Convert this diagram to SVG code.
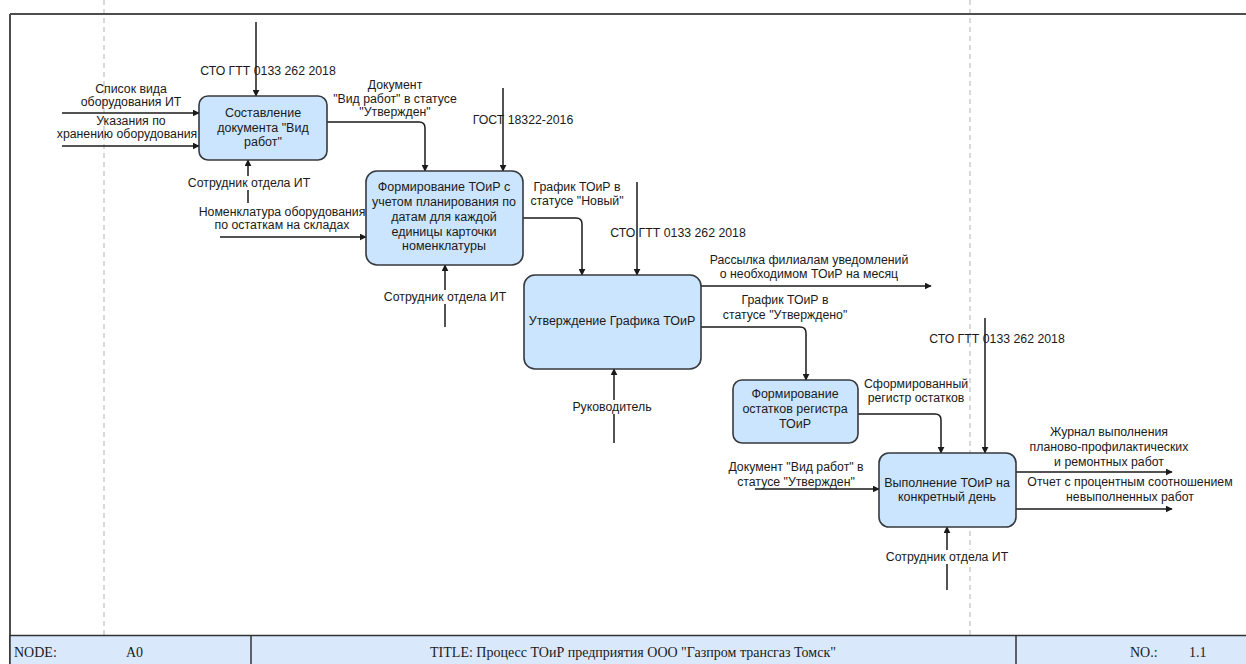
<svg xmlns="http://www.w3.org/2000/svg" width="1246" height="664" viewBox="0 0 1246 664">
  <style>
    .frame { stroke: #4d4d4d; stroke-width: 2; fill: none; }
    .guide { stroke: #b3b3b3; stroke-width: 1; stroke-dasharray: 5 4; fill: none; }
    .box { fill: #cce5ff; stroke: #36393d; stroke-width: 1.6; }
    .btxt { font-family: "Liberation Sans", Arial, sans-serif; font-size: 12.5px; fill: #1a1a1a; text-anchor: middle; }
    .lbl { font-family: "Liberation Sans", Arial, sans-serif; font-size: 12.3px; fill: #1a1a1a; text-anchor: middle; }
    .bg { fill: #ffffff; }
    .wire { stroke: #1a1a1a; stroke-width: 1.5; fill: none; marker-end: url(#head); }
    .bar { fill: #dae8fc; stroke: #333333; stroke-width: 1.5; }
    .btitle { font-family: "Liberation Serif", "Times New Roman", serif; font-size: 14px; fill: #1a1a1a; }
  </style>
  <defs>
    <marker id="head" viewBox="0 0 10 10" refX="9" refY="5" markerWidth="7" markerHeight="7" markerUnits="userSpaceOnUse" orient="auto">
      <path d="M0,0 L10,5 L0,10 z" fill="#1a1a1a"/>
    </marker>
  </defs>

  <rect width="1246" height="664" fill="#ffffff"/>

  <!-- sheet frame and guides -->
  <g id="frame">
    <line class="guide" x1="104" y1="0" x2="104" y2="635"/>
    <line class="guide" x1="970" y1="0" x2="970" y2="635"/>
    <line class="frame" x1="10" y1="14" x2="1246" y2="14"/>
    <line class="frame" x1="10" y1="14" x2="10" y2="664"/>
  </g>

  <!-- connectors -->
  <g id="connectors">
    <line class="wire" x1="256" y1="22" x2="256" y2="96"/>
    <line class="wire" x1="62" y1="113" x2="199" y2="113"/>
    <line class="wire" x1="62" y1="146" x2="199" y2="146"/>
    <line class="wire" x1="248" y1="203" x2="248" y2="160"/>
    <path class="wire" d="M327,122 H419 Q425,122 425,128 V171"/>
    <line class="wire" x1="220" y1="237" x2="366" y2="237"/>
    <line class="wire" x1="503" y1="88" x2="503" y2="171"/>
    <line class="wire" x1="445" y1="327" x2="445" y2="265"/>
    <path class="wire" d="M523,218 H576 Q582,218 582,224 V275"/>
    <line class="wire" x1="637" y1="182" x2="637" y2="275"/>
    <line class="wire" x1="701" y1="286" x2="931" y2="286"/>
    <path class="wire" d="M701,327 H800 Q806,327 806,333 V380"/>
    <line class="wire" x1="614" y1="443" x2="614" y2="369"/>
    <path class="wire" d="M858,414 H935 Q941,414 941,420 V453"/>
    <line class="wire" x1="985" y1="318" x2="985" y2="453"/>
    <line class="wire" x1="755" y1="489" x2="879" y2="489"/>
    <line class="wire" x1="947" y1="590" x2="947" y2="527"/>
    <line class="wire" x1="1016" y1="472" x2="1172" y2="472"/>
    <line class="wire" x1="1016" y1="509" x2="1172" y2="509"/>
  </g>

  <!-- connector labels -->
  <g id="labels">
    <text class="lbl" x="268" y="75">СТО ГТТ 0133 262 2018</text>
    <text class="lbl" x="131" y="93">Список вида</text>
    <text class="lbl" x="131" y="106">оборудования ИТ</text>
    <text class="lbl" x="131" y="125">Указания по</text>
    <text class="lbl" x="127" y="138">хранению оборудования</text>
    <rect class="bg" x="188" y="176" width="122" height="14"/>
    <text class="lbl" x="249" y="187">Сотрудник отдела ИТ</text>
    <text class="lbl" x="395" y="89">Документ</text>
    <text class="lbl" x="395" y="103">"Вид работ" в статусе</text>
    <text class="lbl" x="395" y="116">"Утвержден"</text>
    <text class="lbl" x="282" y="216">Номенклатура оборудования</text>
    <text class="lbl" x="282" y="229">по остаткам на складах</text>
    <text class="lbl" x="523" y="124">ГОСТ 18322-2016</text>
    <rect class="bg" x="384" y="290" width="122" height="14"/>
    <text class="lbl" x="445" y="301">Сотрудник отдела ИТ</text>
    <text class="lbl" x="577" y="191">График ТОиР в</text>
    <text class="lbl" x="577" y="205">статусе "Новый"</text>
    <text class="lbl" x="678" y="237">СТО ГТТ 0133 262 2018</text>
    <text class="lbl" x="809" y="264">Рассылка филиалам уведомлений</text>
    <text class="lbl" x="809" y="278">о необходимом ТОиР на месяц</text>
    <text class="lbl" x="785" y="304">График ТОиР в</text>
    <text class="lbl" x="785" y="319">статусе "Утверждено"</text>
    <rect class="bg" x="571" y="400" width="82" height="14"/>
    <text class="lbl" x="612" y="411">Руководитель</text>
    <text class="lbl" x="916" y="388">Сформированный</text>
    <text class="lbl" x="916" y="402">регистр остатков</text>
    <text class="lbl" x="997" y="343">СТО ГТТ 0133 262 2018</text>
    <text class="lbl" x="796" y="471">Документ "Вид работ" в</text>
    <text class="lbl" x="796" y="486">статусе "Утвержден"</text>
    <rect class="bg" x="886" y="550" width="122" height="14"/>
    <text class="lbl" x="947" y="561">Сотрудник отдела ИТ</text>
    <text class="lbl" x="1109" y="436">Журнал выполнения</text>
    <text class="lbl" x="1109" y="451">планово-профилактических</text>
    <text class="lbl" x="1109" y="466">и ремонтных работ</text>
    <text class="lbl" x="1130" y="486">Отчет с процентным соотношением</text>
    <text class="lbl" x="1130" y="501">невыполненных работ</text>
  </g>

  <!-- activity boxes -->
  <g id="node-a1">
    <rect class="box" x="199" y="96" width="128" height="64" rx="9"/>
    <text class="btxt" x="263" y="117">Составление</text>
    <text class="btxt" x="263" y="132">документа "Вид</text>
    <text class="btxt" x="263" y="146">работ"</text>
  </g>
  <g id="node-a2">
    <rect class="box" x="366" y="171" width="157" height="94" rx="11"/>
    <text class="btxt" x="444" y="191">Формирование ТОиР с</text>
    <text class="btxt" x="444" y="206">учетом планирования по</text>
    <text class="btxt" x="444" y="221">датам для каждой</text>
    <text class="btxt" x="444" y="236">единицы карточки</text>
    <text class="btxt" x="444" y="250">номенклатуры</text>
  </g>
  <g id="node-a3">
    <rect class="box" x="524" y="275" width="177" height="94" rx="11"/>
    <text class="btxt" x="612" y="325">Утверждение Графика ТОиР</text>
  </g>
  <g id="node-a4">
    <rect class="box" x="733" y="380" width="125" height="63" rx="9"/>
    <text class="btxt" x="795" y="398">Формирование</text>
    <text class="btxt" x="795" y="413">остатков регистра</text>
    <text class="btxt" x="795" y="428">ТОиР</text>
  </g>
  <g id="node-a5">
    <rect class="box" x="879" y="453" width="137" height="74" rx="10"/>
    <text class="btxt" x="947" y="487">Выполнение ТОиР на</text>
    <text class="btxt" x="947" y="501">конкретный день</text>
  </g>

  <!-- title block -->
  <g id="title-block">
    <rect class="bar" x="10" y="635.5" width="1240" height="32"/>
    <line x1="251" y1="635.5" x2="251" y2="664" stroke="#333333" stroke-width="1.5"/>
    <line x1="1016" y1="635.5" x2="1016" y2="664" stroke="#333333" stroke-width="1.5"/>
    <text class="btitle" x="14" y="657">NODE:</text>
    <text class="btitle" x="126" y="657">A0</text>
    <text class="btitle" x="633" y="657" text-anchor="middle">TITLE: Процесс ТОиР предприятия ООО "Газпром трансгаз Томск"</text>
    <text class="btitle" x="1130" y="657">NO.:</text>
    <text class="btitle" x="1189" y="657">1.1</text>
  </g>
</svg>
